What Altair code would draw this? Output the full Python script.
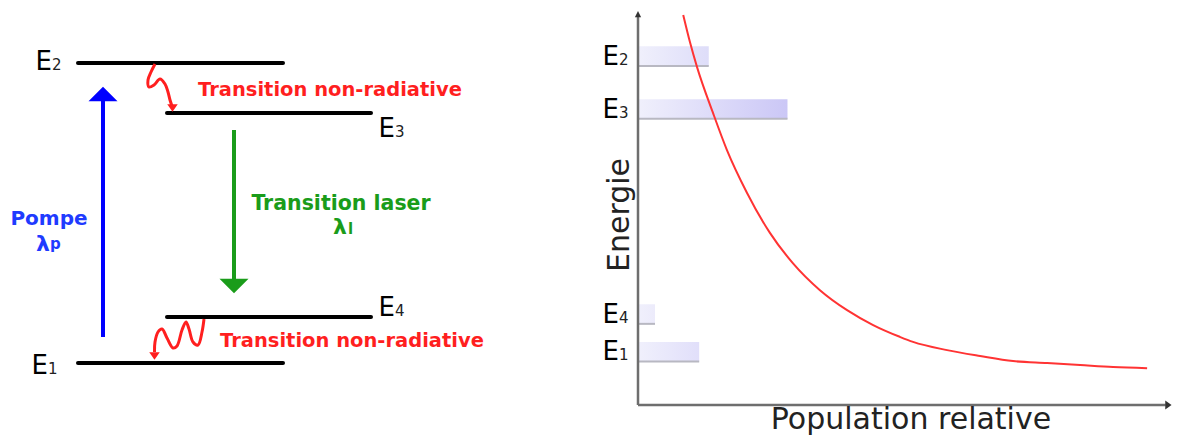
import altair as alt
import pandas as pd

FONT = "DejaVu Sans"
W, H, M = 1164, 428, 8  # plot size and page margin

# ---------------- Left panel: 4-level laser scheme (schematic units = page px) ----------------
lvl_digit = ["2", "3", "4", "1"]
lvl_x_start = [78, 167, 167, 78]
lvl_x_end = [283, 371, 371, 283]
lvl_y = [63, 113, 317, 363]
lvl_label_x = [52, 395, 395, 48]
lvl_label_y = [70, 137, 316, 374]

pump_x, pump_from, pump_to, pump_head = 103, 337, 100, 94
laser_x, laser_from, laser_to, laser_head = 234, 130, 280, 286

sq_top_x = [155, 151, 148, 149, 154, 160, 165, 168, 170, 172]
sq_top_y = [64, 72, 80, 87, 85, 79, 84, 92, 100, 106]
sq_bot_x = [204, 202, 198, 193, 189, 186, 182, 177, 173, 167, 162, 158, 155, 154.5]
sq_bot_y = [319, 332, 345, 342, 329, 322, 330, 346, 348, 338, 329, 332, 342, 352]
sq_heads_x = [172.5, 154.5]
sq_heads_y = [108, 356]

RED = "#ff1f1f"
BLUE_TXT = "#1f3bff"
GREEN = "#1a9c1a"

sx = alt.Scale(domain=[M, M + W], nice=False, zero=False)
sy = alt.Scale(domain=[M, M + H], reverse=True, nice=False, zero=False)


def X(f):
    return alt.X(f, type="quantitative", scale=sx, axis=None)


def Y(f):
    return alt.Y(f, type="quantitative", scale=sy, axis=None)


UP = "M -1 0.5 L 1 0.5 L 0 -0.5 Z"
DOWN = "M -1 -0.5 L 1 -0.5 L 0 0.5 Z"
DOWN_SMALL = "M -1 -0.7 L 1 -0.7 L 0 0.7 Z"
RIGHT_SMALL = "M -0.7 -1 L 0.7 0 L -0.7 1 Z"

lv = pd.DataFrame({"d": lvl_digit, "x1": lvl_x_start, "x2": lvl_x_end, "y": lvl_y,
                   "lx": lvl_label_x, "ly": lvl_label_y})
levels = alt.Chart(lv).mark_rule(color="black", strokeWidth=4, strokeCap="round").encode(
    x=X("x1"), x2="x2", y=Y("y"))
lvl_E = alt.Chart(lv).mark_text(text="E", font=FONT, fontSize=26, align="right",
                                baseline="alphabetic", color="black").encode(x=X("lx"), y=Y("ly"))
lvl_n = alt.Chart(lv).mark_text(font=FONT, fontSize=15, align="left",
                                baseline="alphabetic", color="#222").encode(x=X("lx"), y=Y("ly"), text="d:N")

arr = pd.DataFrame({"x": [pump_x], "y1": [pump_from], "y2": [pump_to], "h": [pump_head]})
pump = alt.Chart(arr).mark_rule(color="#0000ff", strokeWidth=4).encode(x=X("x"), y=Y("y1"), y2="y2")
pump_h = alt.Chart(arr).mark_point(shape=UP, size=841, filled=True, opacity=1,
                                   color="#0000ff").encode(x=X("x"), y=Y("h"))
arr2 = pd.DataFrame({"x": [laser_x], "y1": [laser_from], "y2": [laser_to], "h": [laser_head]})
laser = alt.Chart(arr2).mark_rule(color=GREEN, strokeWidth=4).encode(x=X("x"), y=Y("y1"), y2="y2")
laser_h = alt.Chart(arr2).mark_point(shape=DOWN, size=841, filled=True, opacity=1,
                                     color=GREEN).encode(x=X("x"), y=Y("h"))

sq = pd.DataFrame({
    "x": sq_top_x + sq_bot_x,
    "y": sq_top_y + sq_bot_y,
    "g": ["top"] * len(sq_top_x) + ["bot"] * len(sq_bot_x),
    "o": list(range(len(sq_top_x))) + list(range(len(sq_bot_x))),
})
squig = alt.Chart(sq).mark_line(color=RED, strokeWidth=3, interpolate="catmull-rom").encode(
    x=X("x"), y=Y("y"), detail="g:N", order="o:Q")
sqh = pd.DataFrame({"x": sq_heads_x, "y": sq_heads_y})
squig_h = alt.Chart(sqh).mark_point(shape=DOWN_SMALL, size=110, filled=True, opacity=1,
                                    color=RED).encode(x=X("x"), y=Y("y"))

txt = pd.DataFrame({
    "t": ["Transition non-radiative", "Transition non-radiative"],
    "x": [198, 220], "y": [96, 347]})
red_txt = alt.Chart(txt).mark_text(font=FONT, fontSize=19.5, fontWeight="bold", color=RED,
                                   align="left", baseline="alphabetic").encode(x=X("x"), y=Y("y"), text="t:N")

pompe = pd.DataFrame({"t": ["Pompe"], "x": [49], "y": [225]})
pompe_t = alt.Chart(pompe).mark_text(font=FONT, fontSize=20, fontWeight="bold", color=BLUE_TXT,
                                     align="center", baseline="alphabetic").encode(x=X("x"), y=Y("y"), text="t:N")
lam = pd.DataFrame({"t": ["λ", "λ"], "x": [50, 347], "y": [251, 234]})
lam_t = alt.Chart(lam).mark_text(font=FONT, fontSize=22, fontWeight="bold", align="right",
                                 baseline="alphabetic").encode(
    x=X("x"), y=Y("y"), text="t:N",
    color=alt.Color("x:N", scale=alt.Scale(domain=[50, 347], range=[BLUE_TXT, GREEN]), legend=None))
sub = pd.DataFrame({"t": ["p", "l"], "x": [50, 348], "y": [249, 234]})
sub_t = alt.Chart(sub).mark_text(font=FONT, fontSize=15, fontWeight="bold", align="left",
                                 baseline="alphabetic").encode(
    x=X("x"), y=Y("y"), text="t:N",
    color=alt.Color("t:N", scale=alt.Scale(domain=["p", "l"], range=[BLUE_TXT, GREEN]), legend=None))
las = pd.DataFrame({"t": ["Transition laser"], "x": [341], "y": [210]})
las_t = alt.Chart(las).mark_text(font=FONT, fontSize=20.5, fontWeight="bold", color=GREEN,
                                 align="center", baseline="alphabetic").encode(x=X("x"), y=Y("y"), text="t:N")

left = alt.layer(levels, lvl_E, lvl_n, pump, pump_h, laser, laser_h, squig, squig_h,
                 red_txt, pompe_t, lam_t, sub_t, las_t)

# ---------------- Right panel: relative populations ----------------
pop_digit = ["2", "3", "4", "1"]
pop_energy = [8.65, 7.30, 2.07, 1.11]   # energy of each level (bar bottom)
pop_value = [1.33, 2.81, 0.32, 1.15]    # relative population (bar length)
BAR_THICK = 0.5

curve_pop = [0.85, 0.98, 1.11, 1.41, 1.67, 2.05, 2.48, 2.91, 3.42, 3.93, 4.42, 4.92,
             5.17, 5.81, 6.43, 7.05, 7.69, 8.31, 8.93, 9.57]
curve_energy = [9.95, 9.24, 8.62, 7.45, 6.51, 5.41, 4.39, 3.62, 2.93, 2.42, 2.04, 1.74,
                1.61, 1.40, 1.25, 1.12, 1.07, 1.02, 0.97, 0.94]

AX_LEN_POP = 9.92
AX_LEN_E = 9.92

# layout of the right axes on the page
ORIGIN_X, ORIGIN_Y = 638, 405
PX_POP, PX_E = 53.2, 39.2
px_dom = [(M - ORIGIN_X) / PX_POP, (M + W - ORIGIN_X) / PX_POP]
ey_dom = [(ORIGIN_Y - (M + H)) / PX_E, (ORIGIN_Y - M) / PX_E]
LABEL_POP = (619 - ORIGIN_X) / PX_POP

spx = alt.Scale(domain=px_dom, nice=False, zero=False)
spy = alt.Scale(domain=ey_dom, nice=False, zero=False)


def PX(f):
    return alt.X(f, type="quantitative", scale=spx, axis=None)


def PY(f):
    return alt.Y(f, type="quantitative", scale=spy, axis=None)


def mix(c1, c2, t):
    a = [int(c1[i:i + 2], 16) for i in (1, 3, 5)]
    b = [int(c2[i:i + 2], 16) for i in (1, 3, 5)]
    return "#" + "".join(f"{round(p + (q - p) * t):02x}" for p, q in zip(a, b))


G0, G1 = "#f0f0fc", "#cbc7f6"
vmax = max(pop_value)
bars = []
for d, e, v in zip(pop_digit, pop_energy, pop_value):
    row = pd.DataFrame({"x0": [0.0], "v": [v], "e": [e], "e2": [e + BAR_THICK]})
    grad = alt.LinearGradient(gradient="linear", x1=0, x2=1, y1=0, y2=0,
                              stops=[alt.GradientStop(color=G0, offset=0),
                                     alt.GradientStop(color=mix(G0, G1, v / vmax), offset=1)])
    bars.append(alt.Chart(row).mark_rect(color=grad).encode(x=PX("x0"), x2="v", y=PY("e"), y2="e2"))
    bars.append(alt.Chart(row).mark_rule(color="#b8b8c2", strokeWidth=2).encode(
        x=PX("x0"), x2="v", y=PY("e")))

pl = pd.DataFrame({"d": pop_digit, "e": pop_energy, "lx": [LABEL_POP] * 4})
pl_E = alt.Chart(pl).mark_text(text="E", font=FONT, fontSize=26, align="right", dy=-1,
                               baseline="alphabetic", color="black").encode(x=PX("lx"), y=PY("e"))
pl_n = alt.Chart(pl).mark_text(font=FONT, fontSize=15, align="left", dy=-1,
                               baseline="alphabetic", color="#222").encode(x=PX("lx"), y=PY("e"), text="d:N")

cv = pd.DataFrame({"p": curve_pop, "e": curve_energy})
curve = alt.Chart(cv).mark_line(color="#ff3333", strokeWidth=2, interpolate="monotone").encode(
    x=PX("p"), y=PY("e"))

axes = pd.DataFrame({"x0": [0.0, 0.0], "x1": [0.0, AX_LEN_POP], "y0": [0.0, 0.0], "y1": [AX_LEN_E, 0.0]})
ax_lines = alt.Chart(axes).mark_rule(color="#6e6e6e", strokeWidth=2.5).encode(
    x=PX("x0"), x2="x1", y=PY("y0"), y2="y1")
ay_head = alt.Chart(pd.DataFrame({"x": [0.0], "y": [AX_LEN_E + 0.05]})).mark_point(
    shape="M -0.7 0.7 L 0.7 0.7 L 0 -0.7 Z", size=81, filled=True, opacity=1, color="#333").encode(
    x=PX("x"), y=PY("y"))
ax_head = alt.Chart(pd.DataFrame({"x": [AX_LEN_POP + 0.05], "y": [0.0]})).mark_point(
    shape=RIGHT_SMALL, size=81, filled=True, opacity=1, color="#333").encode(x=PX("x"), y=PY("y"))

titles = pd.DataFrame({"t": ["Energie"]})
t_energy = alt.Chart(titles).mark_text(font=FONT, fontSize=30, angle=270, align="center",
                                       baseline="middle", color="#222").encode(
    x=alt.value(620 - M), y=alt.value(215 - M), text="t:N")
t_pop = alt.Chart(pd.DataFrame({"t": ["Population relative"]})).mark_text(
    font=FONT, fontSize=30, align="center", baseline="alphabetic", color="#222").encode(
    x=alt.value(911 - M), y=alt.value(429 - M), text="t:N")

right = alt.layer(*bars, curve, ax_lines, ay_head, ax_head, pl_E, pl_n, t_energy, t_pop)

chart = alt.layer(left, right).resolve_scale(x="independent", y="independent").properties(
    width=W, height=H, padding=0, autosize=alt.AutoSizeParams(type="none"),
    background="white").configure_view(stroke=None)

chart.save("out.html", embed_options={"renderer": "svg", "actions": False})
